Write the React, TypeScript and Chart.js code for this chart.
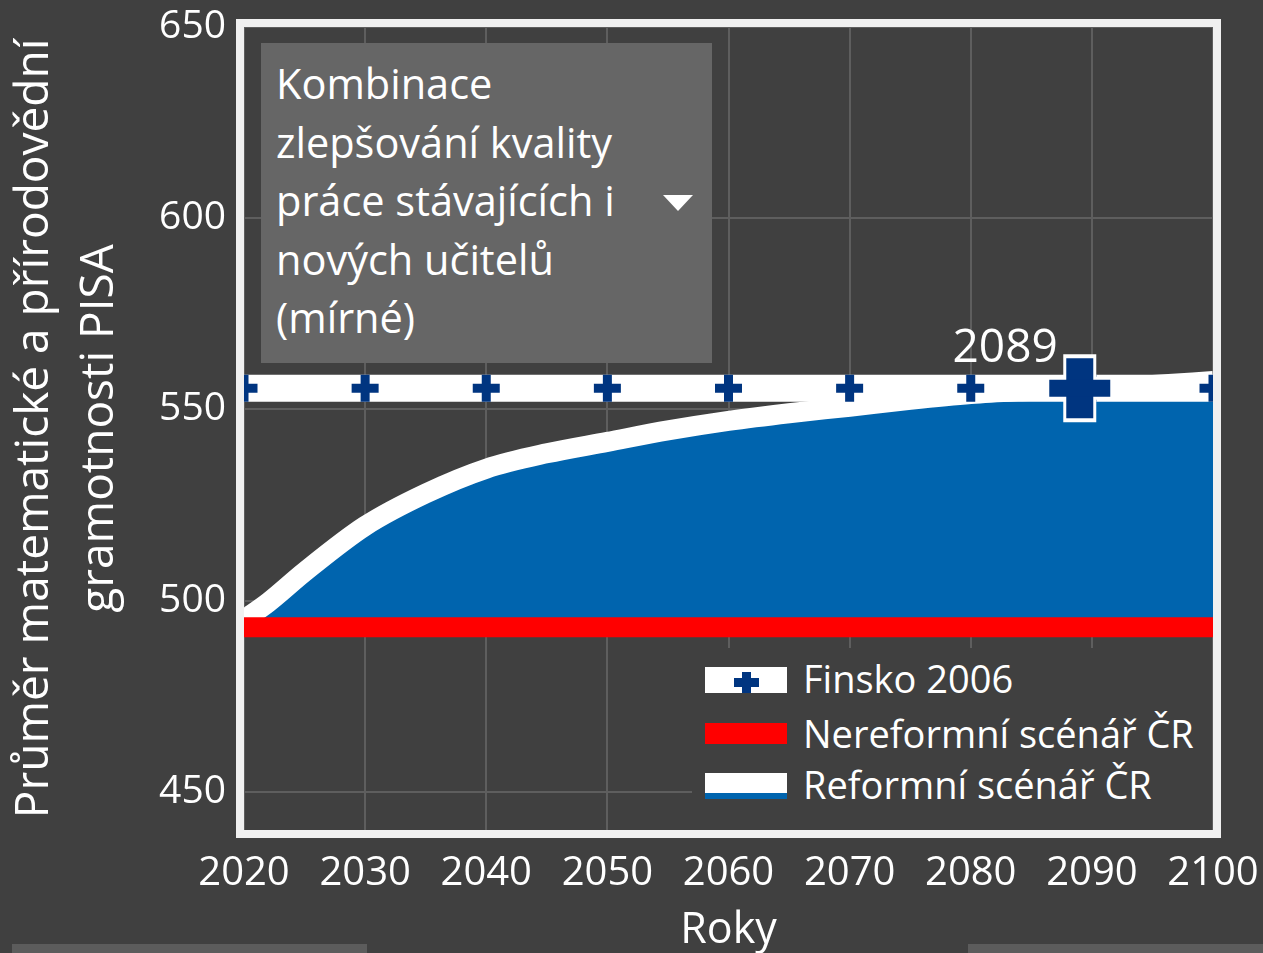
import React, { useEffect, useRef } from "react";
import { Chart, registerables } from "chart.js";

Chart.register(...registerables);

// ---- data ----
const reformYears = [2020, 2022, 2025, 2030, 2035, 2040, 2045, 2050, 2055, 2060, 2065, 2070, 2075, 2080, 2085, 2089, 2095, 2100];
const reformValues = [495, 499.5, 507.5, 519.5, 528, 534.5, 538.5, 541.5, 544.5, 547, 549, 550.7, 552.5, 554, 554.9, 555.5, 556.4, 557.4];
const nonReformYears = [2020, 2100];
const nonReformValues = [493, 493];
const finlandYears = [2020, 2030, 2040, 2050, 2060, 2070, 2080, 2090, 2100];
const finlandValues = [555.5, 555.5, 555.5, 555.5, 555.5, 555.5, 555.5, 555.5, 555.5];
const crossYear = [2089];
const crossValue = [555.5];
const xTickValues = [2020, 2030, 2040, 2050, 2060, 2070, 2080, 2090, 2100];
const yTickValues = [450, 500, 550, 600, 650];
const xRange = [2020, 2100];
const yRange = [440, 650];

const yTitleLines = ["Průměr matematické a přírodovědní", "gramotnosti PISA"];
const xTitle = "Roky";
const scenarioLines = ["Kombinace", "zlepšování kvality", "práce stávajících i", "nových učitelů", "(mírné)"];
const legendLabels = ["Finsko 2006", "Nereformní scénář ČR", "Reformní scénář ČR"];

const FONT = '"Open Sans", "Noto Sans", sans-serif';
const BG = "#404040";
const NAVY = "#003580";
const BLUE = "#0064ae";
const CLEAR = "rgba(0,0,0,0)";

const pts = (xs: number[], ys: number[]) => xs.map((x, i) => ({ x, y: ys[i] }));

const overlayPlugin = {
  id: "overlay",
  afterDatasetsDraw(chart: any) {
    const { ctx, chartArea: a, scales } = chart;
    const px = scales.x.getPixelForValue(crossYear[0]);
    const py = scales.y.getPixelForValue(crossValue[0]);
    ctx.save();
    ctx.font = `46px ${FONT}`;
    ctx.fillStyle = "#ffffff";
    ctx.textAlign = "right";
    ctx.textBaseline = "alphabetic";
    ctx.fillText(String(crossYear[0]), px - 22, py - 26);
    ctx.lineWidth = 8;
    ctx.strokeStyle = "#f0f0f0";
    ctx.strokeRect(a.left - 4, a.top - 4, a.right - a.left + 8, a.bottom - a.top + 8);
    ctx.restore();
  },
};

export default function App() {
  const ref = useRef<HTMLCanvasElement | null>(null);

  useEffect(() => {
    if (!ref.current) return;
    const chart = new Chart(ref.current, {
      type: "line",
      data: {
        datasets: [
          {
            data: pts(reformYears, reformValues),
            borderColor: "#ffffff",
            borderWidth: 20,
            backgroundColor: BLUE,
            fill: 1,
            pointRadius: 0,
            cubicInterpolationMode: "monotone",
            clip: 0,
            order: 4,
          },
          {
            data: pts(nonReformYears, nonReformValues),
            borderColor: "#ff0000",
            borderWidth: 20,
            fill: false,
            pointRadius: 0,
            clip: 0,
            order: 3,
          },
          {
            data: pts(finlandYears, finlandValues),
            borderColor: "#ffffff",
            borderWidth: 27,
            fill: false,
            pointStyle: "cross",
            pointRadius: 13.5,
            pointHoverRadius: 13.5,
            pointBorderWidth: 9,
            pointHoverBorderWidth: 9,
            pointBorderColor: NAVY,
            pointBackgroundColor: NAVY,
            clip: 0,
            order: 2,
          },
          {
            data: pts(crossYear, crossValue),
            showLine: false,
            pointStyle: "line",
            pointRadius: 34,
            pointBorderWidth: 23,
            pointBorderColor: "#ffffff",
            order: 1,
          },
          {
            data: pts(crossYear, crossValue),
            showLine: false,
            pointStyle: "line",
            pointRotation: 90,
            pointRadius: 34,
            pointBorderWidth: 33,
            pointBorderColor: "#ffffff",
            order: 1,
          },
          {
            data: pts(crossYear, crossValue),
            showLine: false,
            pointStyle: "line",
            pointRadius: 30.5,
            pointBorderWidth: 17,
            pointBorderColor: NAVY,
            order: 0,
          },
          {
            data: pts(crossYear, crossValue),
            showLine: false,
            pointStyle: "line",
            pointRotation: 90,
            pointRadius: 30,
            pointBorderWidth: 27,
            pointBorderColor: NAVY,
            order: 0,
          },
        ],
      } as any,
      options: {
        animation: false,
        responsive: false,
        maintainAspectRatio: false,
        devicePixelRatio: 1,
        events: [],
        layout: { autoPadding: false, padding: { top: 27, right: 50, bottom: 0, left: 0 } },
        plugins: {
          legend: { display: false },
          tooltip: { enabled: false },
        },
        scales: {
          x: {
            type: "linear",
            min: xRange[0],
            max: xRange[1],
            afterBuildTicks: (s: any) => {
              s.ticks = xTickValues.map((v) => ({ value: v }));
            },
            afterFit: (s: any) => {
              s.height = 123;
            },
            grid: { color: "#5e5e5e", lineWidth: 2, drawTicks: true, tickLength: 20, tickColor: CLEAR },
            border: { display: false },
            ticks: {
              color: "#ffffff",
              font: { family: FONT, size: 40 },
              padding: 0,
              autoSkip: false,
              maxRotation: 0,
              callback: (v: any) => String(v),
            },
            title: {
              display: true,
              text: xTitle,
              color: "#ffffff",
              font: { family: FONT, size: 43, lineHeight: 1.05 },
              padding: { top: 0, bottom: 0 },
            },
          },
          y: {
            type: "linear",
            min: yRange[0],
            max: yRange[1],
            afterBuildTicks: (s: any) => {
              s.ticks = yTickValues.map((v) => ({ value: v }));
            },
            afterFit: (s: any) => {
              s.width = 244;
            },
            grid: { color: "#5e5e5e", lineWidth: 2, drawTicks: true, tickLength: 18, tickColor: CLEAR },
            border: { display: false },
            ticks: {
              color: "#ffffff",
              font: { family: FONT, size: 39 },
              padding: 0,
              callback: (v: any) => String(v),
            },
            title: {
              display: true,
              text: yTitleLines,
              color: "#ffffff",
              font: { family: FONT, size: 46, lineHeight: 1.413 },
              padding: { top: 2.5, bottom: 0 },
            },
          },
        },
      } as any,
      plugins: [overlayPlugin],
    });
    return () => chart.destroy();
  }, []);

  const abs = (l: number, t: number, w: number, h: number, extra: any = {}) => ({
    position: "absolute" as const,
    left: l,
    top: t,
    width: w,
    height: h,
    ...extra,
  });

  const textTops = [659, 714, 765];

  return (
    <div
      style={{
        position: "fixed",
        left: 0,
        top: 0,
        width: 1263,
        height: 953,
        background: BG,
        overflow: "hidden",
        fontFamily: FONT,
      }}
    >
      <canvas ref={ref} width={1263} height={953} style={{ display: "block" }} />

      {/* scenario dropdown */}
      <div style={abs(261, 43, 451, 320, { background: "#666666" })} />
      <div style={abs(276, 54, 380, 300, { color: "#ffffff", fontSize: 41.5, lineHeight: "58.5px", whiteSpace: "nowrap" })}>
        {scenarioLines.map((l, i) => (
          <div key={i}>{l}</div>
        ))}
      </div>
      <div
        style={abs(663, 195, 0, 0, {
          borderLeft: "15px solid transparent",
          borderRight: "15px solid transparent",
          borderTop: "16px solid #ffffff",
        })}
      />

      {/* legend */}
      <div style={abs(692, 648, 520, 182, { background: BG })} />
      <div style={abs(705, 667, 82, 26, { background: "#ffffff" })} />
      <div style={abs(734, 677.5, 25, 9, { background: NAVY })} />
      <div style={abs(742, 671.5, 9, 21, { background: NAVY })} />
      <div style={abs(705, 723, 82, 21, { background: "#ff0000" })} />
      <div style={abs(705, 773, 82, 20, { background: "#ffffff" })} />
      <div style={abs(705, 793, 82, 6, { background: BLUE })} />
      {legendLabels.map((l, i) => (
        <div
          key={i}
          style={abs(803, textTops[i], 400, 38, { color: "#ffffff", fontSize: 38, lineHeight: "38px", whiteSpace: "nowrap" })}
        >
          {l}
        </div>
      ))}

      {/* bottom bars */}
      <div style={abs(12, 944, 355, 9, { background: "#5c5c5c" })} />
      <div style={abs(968, 944, 295, 9, { background: "#5c5c5c" })} />
    </div>
  );
}
